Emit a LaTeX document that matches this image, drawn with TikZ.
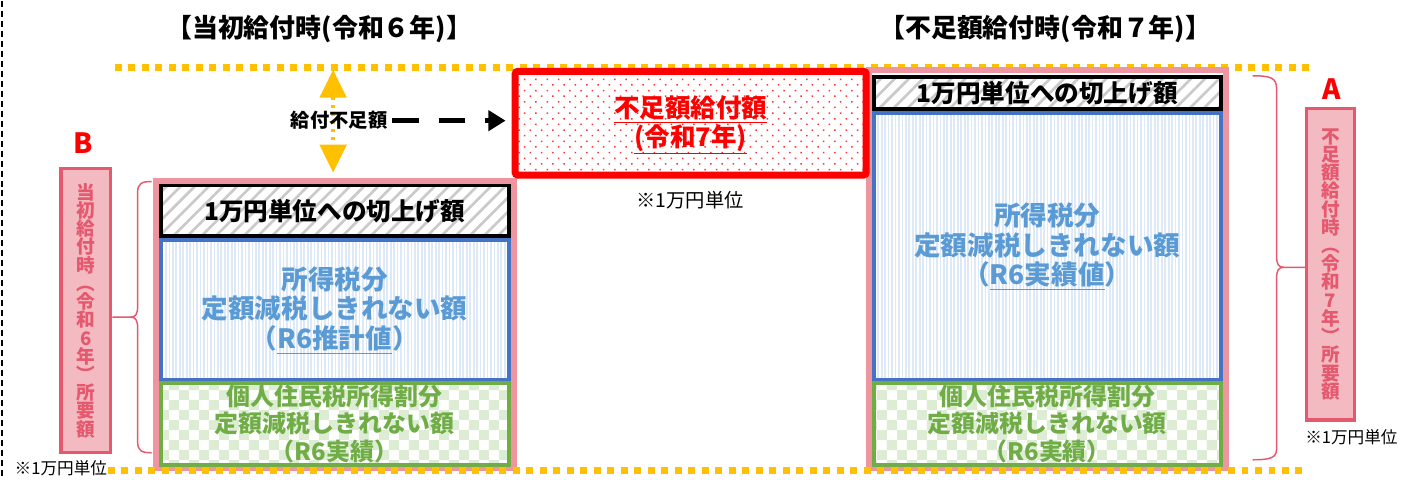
\documentclass[tikz,border=0pt]{standalone}
\usepackage{fontspec}
\setmainfont{Noto Sans CJK JP}
\usepackage{tikz}
\usetikzlibrary{fit,patterns.meta,arrows.meta}
\definecolor{myyellow}{HTML}{FFC000}
\definecolor{mypink}{HTML}{EF959F}
\definecolor{labelpink}{HTML}{F4BAC2}
\definecolor{labelred}{HTML}{E5596E}
\definecolor{myred}{HTML}{FF0000}
\definecolor{myblue}{HTML}{4472C4}
\definecolor{textblue}{HTML}{5B9BD5}
\definecolor{stripeblue}{HTML}{DDE9F6}
\definecolor{mygreen}{HTML}{70AD47}
\definecolor{checkgreen}{HTML}{DDEDD3}
\definecolor{hatchgray}{HTML}{CACACA}
\tikzdeclarepattern{
  name=checker,
  type=uncolored,
  bounding box={(0pt,0pt) and (15pt,15pt)},
  tile size={(15pt,15pt)},
  code={\fill (0pt,0pt) rectangle (7.5pt,7.5pt); \fill (7.5pt,7.5pt) rectangle (15pt,15pt);}
}
\tikzstyle{title} = [font=\bfseries\fontsize{19.5}{22}\selectfont]
\tikzstyle{frame} = [draw=mypink, line width=4.5pt, inner sep=0pt]
\tikzstyle{roundup} = [draw=black, line width=3pt, inner sep=0pt, pattern={Lines[angle=45,distance=7.5pt,line width=2pt]}, pattern color=hatchgray]
\tikzstyle{roundtext} = [font=\bfseries\fontsize{18.5}{20}\selectfont]
\tikzstyle{taxbox} = [draw=myblue, line width=3pt, inner sep=0pt, pattern={Lines[angle=90,distance=2.6pt,line width=1.3pt]}, pattern color=stripeblue]
\tikzstyle{taxtext} = [align=center, text=textblue, font=\bfseries\fontsize{20}{22.5}\selectfont]
\tikzstyle{resbox} = [draw=mygreen, line width=3pt, inner sep=0pt, pattern=checker, pattern color=checkgreen]
\tikzstyle{restext} = [align=center, text=mygreen, font=\bfseries\fontsize{18}{20.5}\selectfont]
\tikzstyle{shortbox} = [draw=myred, line width=5.25pt, rounded corners=2pt, inner sep=0pt, pattern={Dots[angle=45,distance=6pt,radius=0.8pt]}, pattern color=myred!80]
\tikzstyle{shorttext} = [align=center, text=myred, font=\bfseries\fontsize{19.2}{19.5}\selectfont]
\tikzstyle{label} = [draw=labelred, fill=labelpink, line width=2.5pt, inner sep=0pt]
\tikzstyle{labeltext} = [align=center, text=labelred, font=\bfseries\fontsize{14}{13.7}\selectfont]
\tikzstyle{letter} = [text=myred, font=\bfseries\fontsize{21}{22}\selectfont]
\tikzstyle{unit} = [font=\fontsize{12.5}{14}\selectfont]
\tikzstyle{ydots} = [myyellow, line width=5.25pt, dash pattern=on 5.25pt off 4.9pt]
\tikzstyle{brace} = [labelred, line width=1.1pt]

\begin{document}
\begin{tikzpicture}[x=0.75pt, y=-0.75pt]
  % page
  \fill[white] (0,0) rectangle (1402,477);
  \draw[black, line width=1.5pt, dash pattern=on 4.5pt off 3pt] (2,0) -- (2,477);

  % titles
  \node[title] (t6) at (320,28) {【当初給付時(令和６年)】};
  \node[title] (t7) at (1048,28) {【不足額給付時(令和７年)】};

  % yellow guide lines
  \coordinate (ytl) at (115,67);
  \coordinate (ytr) at (1312,67);
  \coordinate (ybl) at (108,471);
  \coordinate (ybr) at (1305,471);
  \draw[ydots] (ytl) -- (ytr);

  % when first paid (R6)
  \node[frame, fit={(156,180) (515,468)}] (f6) {};
  \node[roundup, fit={(161,185) (510,236)}] (r6) {};
  \node[roundtext] (r6t) at (r6.center) {1万円単位への切上げ額};
  \node[taxbox, fit={(161,240) (510,380)}] (i6) {};
  \node[taxtext] (i6t) at (i6.center) {所得税分\\定額減税しきれない額\\（\underline{R6推計値}）};
  \node[resbox, fit={(161,383) (510,465)}] (g6) {};
  \node[restext] (g6t) at (g6.center) {個人住民税所得割分\\定額減税しきれない額\\（R6実績）};

  % when shortfall paid (R7)
  \node[frame, fit={(871,69) (1229,468)}] (f7) {};
  \node[roundup, fit={(876,76) (1224,108)}] (r7) {};
  \node[roundtext] (r7t) at (r7.center) {1万円単位への切上げ額};
  \node[taxbox, fit={(876,112) (1224,380)}] (i7) {};
  \node[taxtext] (i7t) at (i7.center) {所得税分\\定額減税しきれない額\\（\underline{R6実績値}）};
  \node[resbox, fit={(876,383) (1224,465)}] (g7) {};
  \node[restext] (g7t) at (g7.center) {個人住民税所得割分\\定額減税しきれない額\\（R6実績）};

  % shortfall payment
  \node[shortbox, fit={(516.5,70.5) (868.5,174.5)}] (s7) {};
  \node[shorttext] (s7t) at ([yshift=-1.5pt]s7.center) {\underline{不足額給付額}\\\underline{(令和7年)}};
  \node[unit, font=\fontsize{14.5}{16}\selectfont] (u7) at (692,200) {※1万円単位};

  \draw[ydots] (ybl) -- (ybr);

  % gap arrows
  \coordinate (atop) at (334,69);
  \draw[myyellow, line width=2.5pt, dash pattern=on 2.5pt off 3.5pt, {Triangle[width=20pt,length=21pt]}-{Triangle[width=20pt,length=21pt]}, shorten >=3.75pt] (atop) -- (atop |- f6.north);
  \node[font=\bfseries\fontsize{14.5}{16}\selectfont] (gap) at (340,120) {給付不足額};
  \draw[black, line width=3.75pt, dash pattern=on 20pt off 15pt, -{Triangle[width=15pt,length=13pt]}, shorten >=4.5pt] (gap.east) -- (gap.east -| s7.west);

  % labels B and A
  \node[letter] (B) at (83,142) {B};
  \node[label, fit={(61,168) (111,453)}] (l6) {};
  \node[labeltext] (l6t) at (l6.center) {当\\初\\給\\付\\時\\︵\\令\\和\\6\\年\\︶\\所\\要\\額};
  \node[unit] (n6) at (61,468) {※1万円単位};
  \node[letter] (A) at (1335,88) {A};
  \node[label, fit={(1310,108) (1358,420)}] (l7) {};
  \node[labeltext] (l7t) at (l7.center) {不\\足\\額\\給\\付\\時\\︵\\令\\和\\7\\年\\︶\\所\\要\\額};
  \node[unit] (n7) at (1355,437) {※1万円単位};

  % braces
  \coordinate (m6) at (131,317);
  \draw[brace] (152,181) .. controls (142,181) and (138,183) .. (138,192) -- (138,306)
    .. controls (138,314) and (136,317) .. (m6) -- (l6.east |- m6);
  \draw[brace] (m6) .. controls (136,317) and (138,320) .. (138,328) -- (138,442)
    .. controls (138,451) and (142,453) .. (152,453);
  \coordinate (m7) at (1287,267);
  \draw[brace] (1256,75) .. controls (1274,75) and (1280,77) .. (1280,88) -- (1280,256)
    .. controls (1280,264) and (1282,267) .. (m7) -- (l7.west |- m7);
  \draw[brace] (m7) .. controls (1282,267) and (1280,270) .. (1280,278) -- (1280,449)
    .. controls (1280,458) and (1274,460) .. (1256,460);
\end{tikzpicture}
\end{document}
